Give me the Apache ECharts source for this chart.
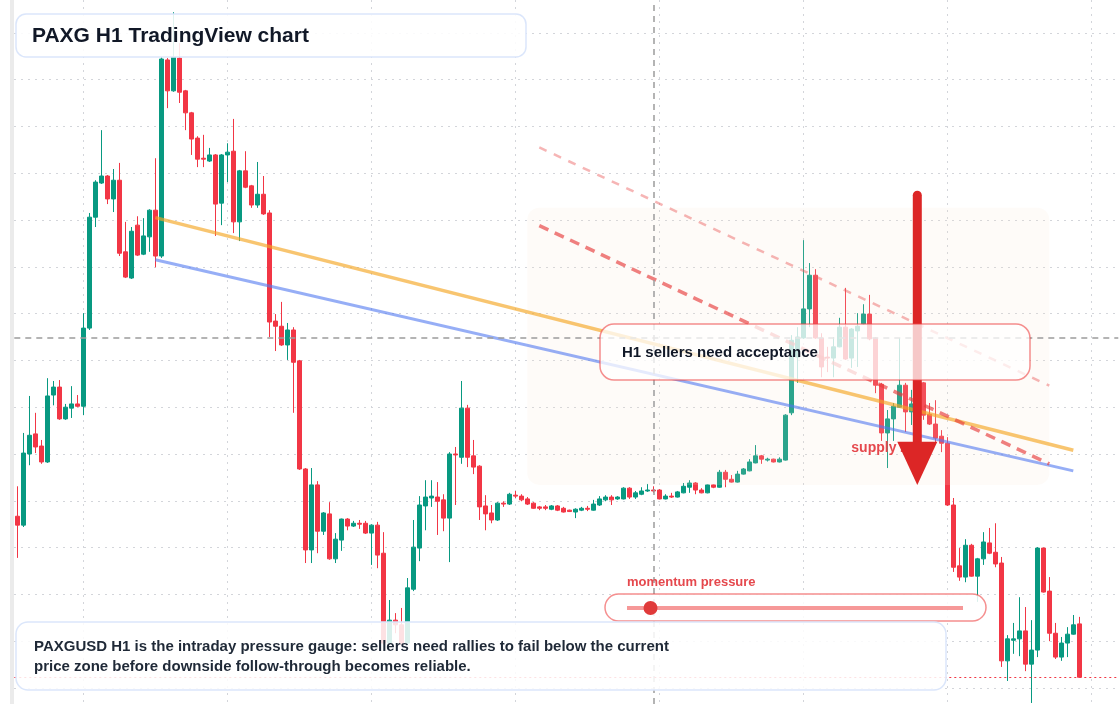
<!DOCTYPE html>
<html>
<head>
<meta charset="utf-8">
<title>PAXG H1 TradingView chart</title>
<script src="https://cdn.jsdelivr.net/npm/echarts@6/dist/echarts.min.js"></script>
<style>
    html, body { margin: 0; padding: 0; background: #fff; }
    #chart { width: 1120px; height: 704px; }
</style>
</head>
<body>
<div id="chart"></div>
<script>
// H1 candles, one row per hour: [open, close, low, high]
var candles = [
    [3336.7, 3334.8, 3327.8, 3343.1], [3334.8, 3350.2, 3334.4, 3354.5], [3350.0, 3354.0, 3347.6, 3362.4], [3354.3, 3351.5, 3350.2, 3358.8],
    [3351.7, 3348.3, 3347.9, 3353.0], [3348.3, 3362.4, 3348.1, 3366.2], [3362.6, 3364.3, 3360.4, 3365.6], [3364.3, 3357.5, 3357.3, 3365.8],
    [3357.5, 3360.0, 3357.3, 3360.7], [3359.8, 3360.7, 3357.7, 3364.5], [3360.7, 3360.2, 3360.0, 3362.6], [3360.2, 3376.9, 3358.3, 3380.1],
    [3376.9, 3400.6, 3376.5, 3401.5], [3400.6, 3408.1, 3398.5, 3408.5], [3407.9, 3409.4, 3407.7, 3419.2], [3409.4, 3404.5, 3403.4, 3409.6],
    [3404.5, 3408.5, 3401.7, 3410.9], [3408.5, 3392.9, 3392.3, 3412.2], [3393.2, 3387.8, 3387.6, 3399.6], [3387.6, 3397.6, 3387.4, 3398.5],
    [3398.9, 3392.5, 3392.3, 3400.8], [3392.7, 3396.6, 3392.5, 3400.4], [3396.4, 3402.1, 3393.2, 3402.3], [3402.1, 3392.3, 3389.9, 3413.2],
    [3392.3, 3434.4, 3391.9, 3434.8], [3434.2, 3427.6, 3423.9, 3434.6], [3427.6, 3434.8, 3427.4, 3444.4], [3434.6, 3427.3, 3425.0, 3437.8],
    [3427.6, 3422.9, 3419.2, 3427.8], [3422.9, 3417.3, 3413.9, 3423.1], [3417.5, 3413.0, 3411.3, 3417.9], [3413.2, 3413.0, 3411.3, 3418.2],
    [3412.6, 3413.9, 3412.4, 3415.4], [3413.9, 3403.4, 3396.6, 3414.1], [3403.6, 3413.9, 3398.9, 3414.1], [3413.9, 3414.5, 3408.1, 3416.4],
    [3414.7, 3399.6, 3397.2, 3421.6], [3399.6, 3410.5, 3395.5, 3410.7], [3410.5, 3407.0, 3406.8, 3414.7], [3407.3, 3403.2, 3402.6, 3407.5],
    [3403.2, 3405.5, 3402.6, 3412.4], [3405.5, 3401.3, 3401.1, 3409.4], [3401.5, 3378.2, 3375.0, 3402.1], [3378.4, 3377.3, 3372.0, 3379.9],
    [3377.3, 3373.3, 3373.1, 3382.5], [3373.3, 3376.5, 3370.1, 3378.0], [3376.5, 3369.6, 3358.8, 3377.1], [3369.9, 3346.8, 3346.6, 3370.1],
    [3346.8, 3329.5, 3326.7, 3347.0], [3329.5, 3343.4, 3326.7, 3347.0], [3343.4, 3333.5, 3328.8, 3344.2], [3333.5, 3337.4, 3332.7, 3337.6],
    [3337.2, 3327.6, 3327.4, 3339.7], [3327.6, 3331.8, 3326.7, 3333.1], [3331.6, 3336.1, 3329.3, 3336.2], [3336.1, 3334.6, 3333.7, 3336.3],
    [3334.6, 3335.2, 3334.4, 3335.7], [3335.2, 3335.0, 3334.0, 3335.9], [3335.2, 3333.1, 3332.9, 3335.7], [3333.1, 3334.8, 3326.3, 3335.0],
    [3334.8, 3328.4, 3325.6, 3335.5], [3328.8, 3309.6, 3309.2, 3333.3], [3309.6, 3314.5, 3309.2, 3318.8], [3314.5, 3313.5, 3311.7, 3316.0],
    [3313.5, 3309.6, 3309.2, 3317.1], [3309.6, 3321.4, 3309.2, 3323.5], [3321.1, 3330.1, 3320.7, 3335.9], [3329.9, 3339.1, 3327.1, 3341.0],
    [3338.9, 3340.8, 3333.7, 3344.4], [3340.6, 3341.0, 3338.7, 3344.4], [3340.8, 3339.9, 3332.7, 3344.0], [3340.2, 3336.3, 3333.5, 3341.4],
    [3336.3, 3350.0, 3326.9, 3350.4], [3350.0, 3349.8, 3339.1, 3351.5], [3349.3, 3359.8, 3347.9, 3365.6], [3359.8, 3349.3, 3347.2, 3360.5],
    [3349.6, 3347.2, 3345.7, 3353.0], [3347.4, 3338.7, 3335.9, 3347.6], [3338.9, 3337.2, 3333.7, 3341.2], [3337.4, 3335.9, 3335.2, 3339.1],
    [3335.9, 3339.5, 3335.7, 3339.7], [3339.5, 3339.3, 3338.7, 3339.9], [3339.3, 3341.4, 3339.1, 3341.7], [3341.2, 3341.0, 3340.6, 3342.1],
    [3341.0, 3340.2, 3339.9, 3341.4], [3340.4, 3339.3, 3339.1, 3340.8], [3339.5, 3338.4, 3338.3, 3339.7], [3338.7, 3338.4, 3338.0, 3338.9],
    [3338.7, 3338.4, 3338.0, 3339.1], [3338.2, 3338.9, 3338.0, 3339.1], [3338.9, 3338.0, 3337.8, 3339.1], [3338.4, 3337.6, 3337.5, 3338.7],
    [3338.0, 3337.7, 3337.6, 3338.1], [3337.6, 3338.2, 3336.3, 3338.4], [3338.0, 3338.4, 3337.8, 3338.7], [3338.4, 3338.2, 3337.8, 3338.9],
    [3338.0, 3339.3, 3337.9, 3340.2], [3339.1, 3340.4, 3338.9, 3341.0], [3340.2, 3340.8, 3339.9, 3341.2], [3340.8, 3340.2, 3339.1, 3341.2],
    [3340.4, 3340.8, 3340.2, 3341.0], [3340.4, 3342.7, 3340.3, 3342.9], [3342.7, 3340.8, 3340.4, 3342.9], [3340.8, 3341.7, 3340.4, 3342.1],
    [3341.4, 3342.1, 3341.2, 3342.9], [3342.1, 3342.3, 3341.9, 3343.6], [3342.3, 3342.1, 3341.7, 3343.1], [3342.3, 3340.4, 3340.3, 3342.5],
    [3340.4, 3341.0, 3340.3, 3341.4], [3341.0, 3340.8, 3340.6, 3341.7], [3340.8, 3341.9, 3340.7, 3342.1], [3341.7, 3343.1, 3341.6, 3343.8],
    [3342.9, 3343.8, 3341.7, 3344.4], [3343.8, 3342.3, 3341.4, 3344.0], [3342.3, 3341.7, 3341.6, 3342.7], [3341.7, 3343.4, 3341.6, 3343.5],
    [3343.4, 3342.9, 3342.7, 3343.5], [3342.9, 3346.1, 3342.8, 3346.6], [3346.1, 3344.6, 3342.9, 3346.6], [3344.6, 3344.0, 3343.9, 3345.5],
    [3344.0, 3345.7, 3343.9, 3346.4], [3345.7, 3346.8, 3345.6, 3347.0], [3346.4, 3348.3, 3346.3, 3348.9], [3348.1, 3349.6, 3348.0, 3351.9],
    [3349.6, 3348.9, 3347.9, 3349.8], [3348.7, 3348.9, 3348.4, 3349.2], [3348.9, 3348.3, 3348.2, 3349.0], [3348.3, 3348.9, 3348.2, 3349.3],
    [3348.7, 3358.3, 3348.6, 3358.5], [3358.8, 3374.3, 3358.3, 3375.4], [3370.7, 3375.0, 3365.2, 3377.1], [3374.8, 3381.0, 3374.6, 3395.7],
    [3381.0, 3388.2, 3377.1, 3390.8], [3388.2, 3374.8, 3374.6, 3389.5], [3374.8, 3368.6, 3366.4, 3375.8], [3370.7, 3370.5, 3367.5, 3372.9],
    [3370.5, 3372.9, 3366.4, 3375.0], [3372.9, 3377.1, 3372.8, 3379.1], [3377.1, 3370.3, 3370.1, 3385.5], [3370.5, 3376.7, 3368.4, 3376.9],
    [3376.3, 3377.3, 3368.6, 3380.1], [3377.8, 3379.9, 3377.6, 3382.0], [3379.9, 3374.6, 3374.3, 3384.0], [3374.8, 3364.7, 3363.0, 3375.0],
    [3364.9, 3354.5, 3352.8, 3365.2], [3354.5, 3357.5, 3347.0, 3359.4], [3357.5, 3360.2, 3352.8, 3360.9], [3360.0, 3364.7, 3359.9, 3374.8],
    [3364.7, 3359.0, 3354.7, 3365.2], [3359.0, 3360.7, 3356.2, 3363.7], [3360.7, 3359.4, 3357.7, 3362.0], [3365.2, 3358.3, 3357.3, 3365.4],
    [3358.5, 3356.4, 3356.2, 3360.9], [3356.4, 3353.4, 3352.3, 3361.5], [3353.8, 3352.3, 3350.4, 3355.1], [3352.3, 3339.1, 3338.9, 3353.6],
    [3339.1, 3325.8, 3324.8, 3340.6], [3326.1, 3323.7, 3322.9, 3329.9], [3323.7, 3330.5, 3322.6, 3331.8], [3330.5, 3323.9, 3323.8, 3330.8],
    [3323.9, 3327.6, 3318.4, 3327.8], [3327.6, 3331.2, 3326.3, 3333.3], [3331.0, 3328.8, 3328.6, 3334.2], [3329.0, 3326.5, 3325.8, 3335.2],
    [3326.7, 3305.8, 3304.5, 3328.0], [3305.8, 3310.5, 3301.5, 3311.3], [3310.2, 3310.5, 3307.3, 3313.9], [3310.5, 3312.2, 3306.8, 3319.4],
    [3312.2, 3305.1, 3303.6, 3317.3], [3305.1, 3308.1, 3296.8, 3314.5], [3308.1, 3329.9, 3306.6, 3330.1], [3329.9, 3320.5, 3320.4, 3330.0],
    [3320.7, 3311.7, 3310.0, 3323.7], [3311.7, 3306.6, 3306.2, 3313.9], [3306.6, 3309.6, 3305.8, 3310.9], [3309.6, 3311.5, 3306.6, 3313.0],
    [3311.5, 3313.5, 3311.4, 3315.6], [3313.7, 3302.3, 3302.2, 3315.2]
]

// drawn levels, as [hour index, price] end points
var orangeTrend = [[23, 3400.5], [176, 3350.8]]
var blueTrend = [[23, 3391.5], [176, 3346.4]]
var upperChannel = [[87, 3415.5], [172, 3364.6]]
var lowerChannel = [[87, 3398.8], [172, 3347.9]]

var crossPrice = 3374.8
var crossHour = 106
var lastClose = candles[candles.length - 1][1]

var zoneHours = [85, 172]
var zonePrices = [3402.6, 3343.4]
var supplyLabel = [139, 3351.3]
var arrowHour = 150
var arrowPrices = [3405.3, 3352.6, 3343.4]   // tail, head base, tip
var momentum = 0.07                          // gauge position 0..1

// visible price window (top and bottom edge of the picture)
var priceTop = 3447.01
var priceBottom = 3296.58

var up = '#089981'
var down = '#f23645'
var font = '"Liberation Sans", Arial, Helvetica, sans-serif'
var gridLine = { color: '#d3d5da', type: [2, 5], width: 1 }

// a few empty hours on the right so the grid runs to the edge
var hours = []
for (var i = 0; i < candles.length + 6; i++) hours.push(i)

var trend = (data, color, width, type) => ({
    type: 'line',
    data: data,
    z: 4,
    silent: true,
    symbol: 'none',
    lineStyle: { color: color, width: width, type: type || 'solid' }
})

var bare = (extra) => Object.assign({
    axisLine: { show: false },
    axisTick: { show: false },
    axisLabel: { show: false },
    splitLine: { show: false }
}, extra)

var chart = echarts.init(document.getElementById('chart'))

chart.setOption({
    animation: false,
    backgroundColor: '#ffffff',
    grid: [
        { left: 14.3, width: 1104, top: 0, height: 704 },
        // dotted price rows, every 10
        { left: 14, width: 1106, top: 32.8, height: 655.2 },
        // dotted time columns, every 24 hours
        { left: 83.3, width: 1008, top: 0, height: 704 }
    ],
    xAxis: [
        bare({ type: 'category', data: hours, gridIndex: 0 }),
        bare({ type: 'value', gridIndex: 1, min: 0, max: 1 }),
        bare({
            type: 'value', gridIndex: 2, min: 0, max: 7, interval: 1,
            splitLine: { show: true, showMinLine: true, showMaxLine: true, lineStyle: gridLine }
        })
    ],
    yAxis: [
        bare({ type: 'value', gridIndex: 0, min: priceBottom, max: priceTop }),
        bare({
            type: 'value', gridIndex: 1, min: 0, max: 14, interval: 1,
            splitLine: { show: true, showMinLine: true, showMaxLine: true, lineStyle: gridLine }
        }),
        bare({ type: 'value', gridIndex: 2, min: 0, max: 1 })
    ],
    series: [
        {
            type: 'candlestick',
            data: candles,
            barWidth: 4,
            clip: false,
            itemStyle: {
                color: up,
                color0: down,
                borderColor: up,
                borderColor0: down,
                borderWidth: 1
            },
            markLine: {
                silent: true,
                symbol: 'none',
                label: { show: false },
                data: [
                    { yAxis: crossPrice, lineStyle: { color: '#9c9c9c', type: [6, 5], width: 1.5 } },
                    { xAxis: crossHour, lineStyle: { color: '#9c9c9c', type: [6, 5], width: 1.5 } },
                    { yAxis: lastClose, lineStyle: { color: down, type: [2, 3], width: 1 } }
                ]
            }
        },
        trend(orangeTrend, 'rgba(245,166,35,0.65)', 3.5),
        trend(blueTrend, 'rgba(80,120,240,0.6)', 3),
        trend(upperChannel, 'rgba(235,90,90,0.45)', 2.5, [8, 8]),
        trend(lowerChannel, 'rgba(230,60,60,0.65)', 3.5, [10, 7])
    ]
})

// overlays pinned to chart coordinates
var px = (h, p) => chart.convertToPixel({ gridIndex: 0 }, [h, p])
var zA = px(zoneHours[0], zonePrices[0])
var zB = px(zoneHours[1], zonePrices[1])
var sl = px(supplyLabel[0], supplyLabel[1])
var aTail = px(arrowHour, arrowPrices[0])
var aBase = px(arrowHour, arrowPrices[1])
var aTip = px(arrowHour, arrowPrices[2])

chart.setOption({
    graphic: [
        // price scale strip on the left
        { type: 'rect', z: 1, silent: true, shape: { x: 10, y: 0, width: 4, height: 704 }, style: { fill: '#ebebeb' } },
        // supply zone
        {
            type: 'rect', z: 3, silent: true,
            shape: { x: zA[0], y: zA[1], width: zB[0] - zA[0], height: zB[1] - zA[1], r: 12 },
            style: { fill: 'rgba(245,225,205,0.15)' }
        },
        {
            type: 'text', z: 5, x: sl[0], y: sl[1],
            style: { text: 'supply zone', font: 'bold 14px ' + font, fill: '#e5484d', verticalAlign: 'middle' }
        },
        // big down arrow
        {
            type: 'line', z: 6,
            shape: { x1: aTail[0], y1: aTail[1], x2: aBase[0], y2: aBase[1] + 2 },
            style: { stroke: '#dc2626', lineWidth: 9, lineCap: 'round' }
        },
        {
            type: 'polygon', z: 6,
            shape: { points: [[aBase[0] - 20, aBase[1]], [aBase[0] + 20, aBase[1]], [aTip[0], aTip[1]]] },
            style: { fill: '#dc2626' }
        },
        // callout
        {
            type: 'rect', z: 8,
            shape: { x: 600, y: 324, width: 430, height: 56, r: 14 },
            style: { fill: 'rgba(255,255,255,0.75)', stroke: 'rgba(239,68,68,0.6)', lineWidth: 1.5 }
        },
        {
            type: 'text', z: 9, x: 622, y: 353,
            style: { text: 'H1 sellers need acceptance', font: 'bold 15px ' + font, fill: '#111827', verticalAlign: 'middle' }
        },
        // title
        {
            type: 'rect', z: 8,
            shape: { x: 16, y: 14, width: 510, height: 43, r: 10 },
            style: { fill: 'rgba(255,255,255,0.88)', stroke: '#dbe6fb', lineWidth: 1.5 }
        },
        {
            type: 'text', z: 9, x: 32, y: 36,
            style: { text: 'PAXG H1 TradingView chart', font: 'bold 21px ' + font, fill: '#111827', verticalAlign: 'middle' }
        },
        // momentum gauge
        {
            type: 'text', z: 9, x: 627, y: 582,
            style: { text: 'momentum pressure', font: 'bold 13px ' + font, fill: '#e5484d', verticalAlign: 'middle' }
        },
        {
            type: 'rect', z: 8,
            shape: { x: 605, y: 594, width: 381, height: 27, r: 13.5 },
            style: { fill: 'rgba(255,255,255,0.85)', stroke: 'rgba(239,68,68,0.6)', lineWidth: 1.5 }
        },
        {
            type: 'line', z: 9,
            shape: { x1: 627, y1: 608, x2: 963, y2: 608 },
            style: { stroke: 'rgba(239,68,68,0.55)', lineWidth: 4 }
        },
        {
            type: 'circle', z: 9,
            shape: { cx: 627 + momentum * 336, cy: 608, r: 7 },
            style: { fill: '#e03a3a' }
        },
        // description
        {
            type: 'rect', z: 8,
            shape: { x: 16, y: 622, width: 930, height: 68, r: 12 },
            style: { fill: 'rgba(255,255,255,0.85)', stroke: '#dbe6fb', lineWidth: 1.5 }
        },
        {
            type: 'text', z: 9, x: 34, y: 657,
            style: {
                text: 'PAXGUSD H1 is the intraday pressure gauge: sellers need rallies to fail below the current\nprice zone before downside follow-through becomes reliable.',
                font: 'bold 15px ' + font,
                lineHeight: 20,
                fill: '#1f2937',
                verticalAlign: 'middle'
            }
        }
    ]
})
</script>
</body>
</html>
